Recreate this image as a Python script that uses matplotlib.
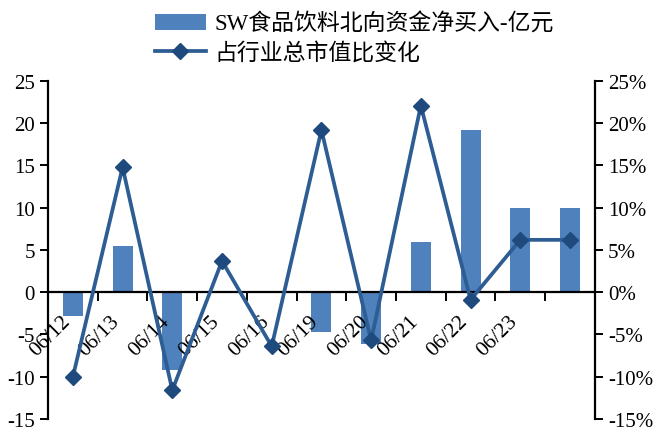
import matplotlib.pyplot as plt
import numpy as np
from matplotlib.ticker import FuncFormatter

plt.rcParams['font.family'] = ['Liberation Serif', 'Noto Sans CJK SC']
plt.rcParams['axes.unicode_minus'] = False

dates = ['06/12', '06/13', '06/14', '06/15', '06/16', '06/19',
         '06/20', '06/21', '06/22', '06/23', '']
net_buy = [-2.8, 5.5, -9.2, 0.1, 0.2, -4.7, -6.1, 5.9, 19.2, 10.0, 10.0]
share_chg = [-10.0, 14.8, -11.6, 3.7, -6.4, 19.2, -5.7, 22.1, -0.9, 6.2, 6.2]  # %

bar_color = '#4F81BD'
line_color = '#2D5D93'
marker_color = '#1F4A7E'

fig = plt.figure(figsize=(6.58, 4.35), dpi=100)
ax = fig.add_axes([0.073, 0.0345, 0.831, 0.777])
ax2 = ax.twinx()

x = np.arange(len(dates))
bars = ax.bar(x, net_buy, width=0.4, color=bar_color, zorder=2)
line, = ax2.plot(x, np.array(share_chg) / 100, color=line_color, lw=2.7,
                 marker='D', markersize=8, markerfacecolor=marker_color,
                 markeredgecolor=marker_color, zorder=3)

ax.set_xlim(-0.5, len(dates) - 0.5)
ax.set_ylim(-15, 25)
ax.set_yticks(np.arange(-15, 26, 5))
ax2.set_ylim(-0.15, 0.25)
ax2.set_yticks(np.arange(-0.15, 0.26, 0.05))
ax2.yaxis.set_major_formatter(FuncFormatter(lambda v, p: '%d%%' % round(v * 100)))

# spines: left/right full height, x axis sits on zero
for a in (ax, ax2):
    a.spines['top'].set_visible(False)
    a.spines['bottom'].set_visible(False)
ax.spines['right'].set_visible(False)
ax2.spines['left'].set_visible(False)
ax.spines['left'].set_linewidth(1.6)
ax2.spines['right'].set_linewidth(1.6)
ax.axhline(0, color='black', lw=1.6, zorder=4)

ax.tick_params(axis='y', direction='out', length=6, width=1.4, labelsize=15)
ax2.tick_params(axis='y', direction='out', length=6, width=1.4, labelsize=15)

# boundary ticks hang below the zero line, labels centred on categories
ax.set_xticks([])
for b in x[1:] - 0.5:
    ax.plot([b, b], [0, -0.9], color='black', lw=1.4, zorder=4, clip_on=False)
for xi, lab in zip(x, dates):
    ax.text(xi + 0.02, -2.3, lab, rotation=45, ha='right', va='top',
            fontsize=15.5)

fig.legend([bars, line], ['SW食品饮料北向资金净买入-亿元', '占行业总市值比变化'],
           loc='upper left', bbox_to_anchor=(0.215, 1.0), frameon=False,
           fontsize=16.5, handlelength=2.2, handletextpad=0.4,
           labelspacing=0.3, borderaxespad=0.2)

fig.savefig('out.png', dpi=100)
